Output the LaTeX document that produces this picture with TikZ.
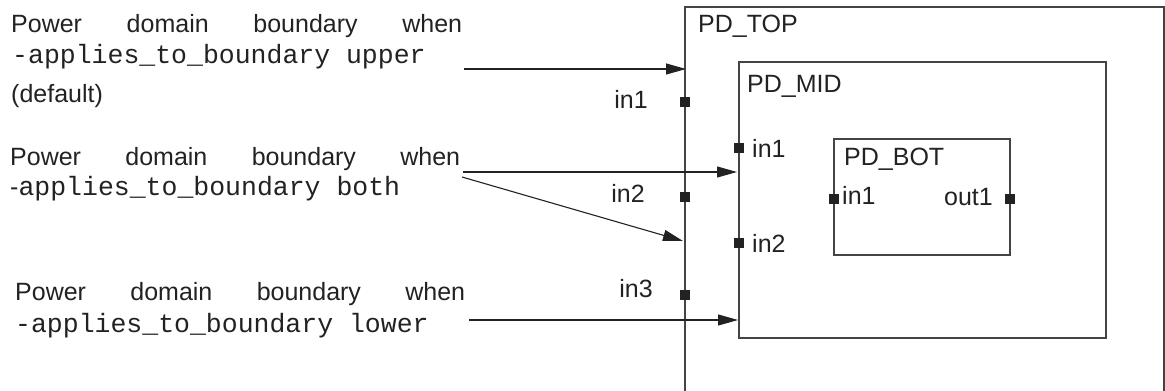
\documentclass[tikz,border=0pt]{standalone}
\usepackage{fontspec}
\setmainfont{Liberation Sans}
\setmonofont{Liberation Mono}
\usetikzlibrary{arrows.meta}
\definecolor{ink}{HTML}{222222}
\definecolor{edge}{HTML}{444444}
\tikzset{
  lbl/.style={inner sep=0pt, anchor=base west, text=ink, font=\fontsize{25}{30}\selectfont},
  mono/.style={inner sep=0pt, anchor=base west, text=ink, font=\fontsize{26.5}{30}\selectfont\ttfamily},
  pin/.style={fill=ink, draw=none, minimum size=10pt, inner sep=0pt},
  box/.style={draw=edge, line width=1.3pt, inner sep=0pt},
  arr/.style={draw=ink, line width=1.1pt, -{Triangle[length=20pt,width=11pt]}}
}
\begin{document}
\begin{tikzpicture}[x=1pt,y=-1pt]
\useasboundingbox (0,0) rectangle (1165,391);
% PD_TOP (open at the bottom)
\coordinate (topbl) at (685,391);
\coordinate (toptl) at (685,7);
\coordinate (toptr) at (1164,7);
\coordinate (topbr) at (1164,391);
\draw[edge, line width=1.3pt] (topbl) -- (toptl) -- (toptr) -- (topbr);
\node[lbl] (toplbl) at (698,32) {PD\_TOP};
% PD_MID
\node[box, minimum width=367pt, minimum height=276pt] (mid) at (922.5,200) {};
\node[lbl] (midlbl) at (747,92) {PD\_MID};
% PD_BOT
\node[box, minimum width=176pt, minimum height=116pt] (bot) at (922,197) {};
\node[lbl] (botlbl) at (844,165) {PD\_BOT};
% pins on PD_TOP
\node[pin] (tin1) at (685,102) {};
\node[pin] (tin2) at (685,197) {};
\node[pin] (tin3) at (685,295) {};
\node[lbl, anchor=base east] (tin1l) at (648,108) {in1};
\node[lbl, anchor=base east] (tin2l) at (645,202) {in2};
\node[lbl, anchor=base east] (tin3l) at (653,297) {in3};
% pins on PD_MID
\node[pin] (min1) at (739,148) {};
\node[pin] (min2) at (739,243) {};
\node[lbl] (min1l) at (752,157) {in1};
\node[lbl] (min2l) at (752,252) {in2};
% pins on PD_BOT
\node[pin] (bin1) at (834,199) {};
\node[pin] (bout1) at (1010,199) {};
\node[lbl] (bin1l) at (842,204) {in1};
\node[lbl, anchor=base east] (bout1l) at (993,205) {out1};
% text blocks
\node[lbl] (t1a) at (11,32) {\makebox[451pt][s]{Power domain boundary when}};
\node[mono] (t1b) at (12,63) {-applies\_to\_boundary upper};
\node[lbl] (t1c) at (11,102) {(default)};
\node[lbl] (t2a) at (10,165) {\makebox[450pt][s]{Power domain boundary when}};
\node[lbl] (t2b) at (10,195) {-{\fontsize{26.5}{30}\selectfont\ttfamily applies\_to\_boundary both}};
\node[lbl] (t3a) at (15,300) {\makebox[450pt][s]{Power domain boundary when}};
\node[mono] (t3b) at (15,332) {-applies\_to\_boundary lower};
% arrows
\coordinate (a1s) at (464,69);
\coordinate (a1e) at (686,69);
\coordinate (a2s) at (463,172);
\coordinate (a2e) at (737,172);
\coordinate (a3s) at (462,177);
\coordinate (a3e) at (683,241);
\coordinate (a4s) at (469,320);
\coordinate (a4e) at (738,320);
\draw[arr] (a1s) -- (a1e);
\draw[arr] (a2s) -- (a2e);
\draw[arr] (a3s) -- (a3e);
\draw[arr] (a4s) -- (a4e);
\end{tikzpicture}
\end{document}
